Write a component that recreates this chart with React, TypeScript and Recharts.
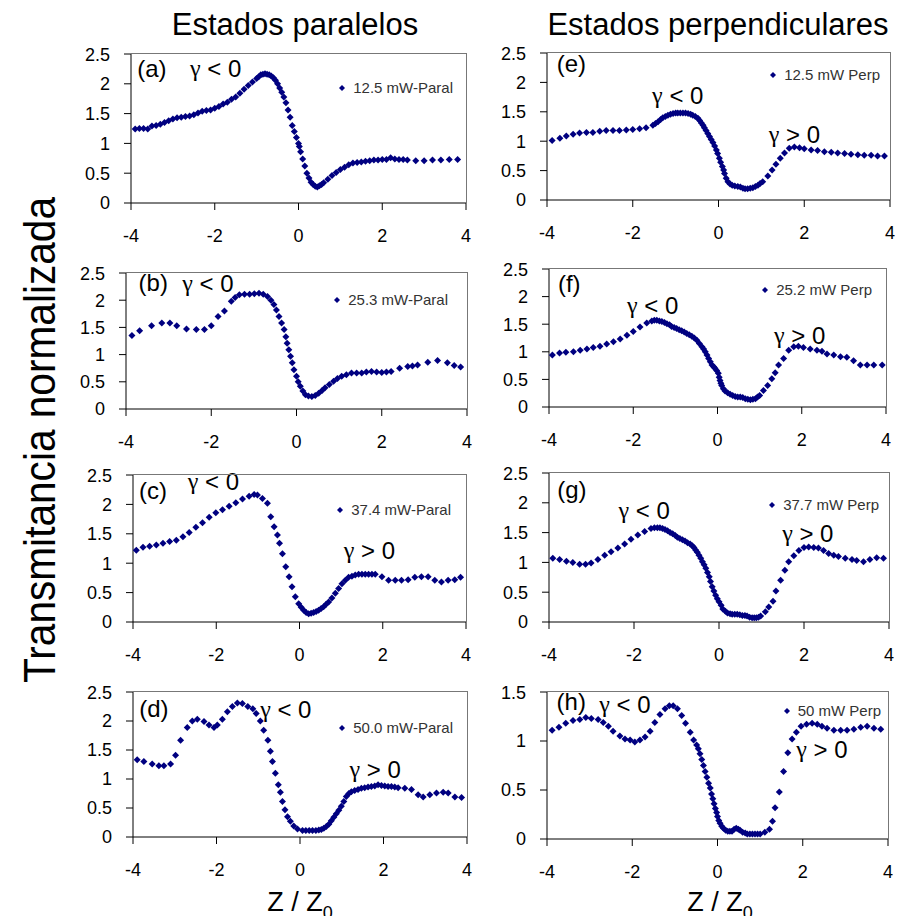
import React from 'react';
import { ScatterChart, Scatter, XAxis, YAxis, ZAxis, ReferenceDot } from 'recharts';

// Z/Z0 , normalized transmittance
const paral125 = [
  [-3.9, 1.24], [-3.8, 1.25], [-3.7, 1.25], [-3.6, 1.24], [-3.5, 1.29], [-3.4, 1.3], [-3.3, 1.32], [-3.2, 1.35],
  [-3.1, 1.38], [-3.0, 1.41], [-2.9, 1.43], [-2.8, 1.44], [-2.7, 1.45], [-2.6, 1.46], [-2.5, 1.48], [-2.4, 1.51],
  [-2.3, 1.54], [-2.2, 1.55], [-2.1, 1.56], [-2.0, 1.59], [-1.9, 1.62], [-1.8, 1.66], [-1.7, 1.69], [-1.6, 1.74],
  [-1.5, 1.78], [-1.4, 1.84], [-1.3, 1.91], [-1.2, 1.97], [-1.1, 2.03], [-1.0, 2.09], [-0.95, 2.12], [-0.9, 2.15],
  [-0.85, 2.16], [-0.8, 2.17], [-0.75, 2.16], [-0.7, 2.15], [-0.65, 2.13], [-0.6, 2.1], [-0.55, 2.06], [-0.5, 2.0],
  [-0.45, 1.93], [-0.4, 1.86], [-0.35, 1.78], [-0.3, 1.68], [-0.25, 1.56], [-0.2, 1.44], [-0.15, 1.3], [-0.1, 1.2],
  [-0.05, 1.1], [0, 1.0], [0.02, 0.95], [0.05, 0.86], [0.1, 0.74], [0.15, 0.62], [0.2, 0.5], [0.25, 0.42],
  [0.3, 0.35], [0.35, 0.31], [0.4, 0.28], [0.45, 0.27], [0.5, 0.29], [0.55, 0.31], [0.6, 0.34], [0.7, 0.4],
  [0.8, 0.46], [0.9, 0.51], [1.0, 0.56], [1.1, 0.6], [1.2, 0.64], [1.3, 0.67], [1.4, 0.68], [1.5, 0.69],
  [1.6, 0.7], [1.7, 0.71], [1.8, 0.72], [1.9, 0.72], [2.0, 0.73], [2.1, 0.73], [2.2, 0.76], [2.3, 0.74],
  [2.4, 0.73], [2.5, 0.73], [2.6, 0.72], [2.8, 0.71], [3.0, 0.71], [3.2, 0.72], [3.4, 0.72], [3.6, 0.73], [3.8, 0.73],
];

const paral253 = [
  [-3.86, 1.35], [-3.68, 1.44], [-3.4, 1.53], [-3.16, 1.58], [-2.97, 1.58], [-2.81, 1.53], [-2.58, 1.47], [-2.35, 1.46],
  [-2.16, 1.46], [-2.0, 1.53], [-1.84, 1.7], [-1.69, 1.8], [-1.53, 1.98], [-1.44, 2.05], [-1.34, 2.1], [-1.22, 2.11],
  [-1.1, 2.11], [-0.99, 2.12], [-0.88, 2.13], [-0.78, 2.11], [-0.68, 2.07], [-0.6, 2.0], [-0.53, 1.92], [-0.47, 1.82],
  [-0.41, 1.7], [-0.35, 1.58], [-0.29, 1.46], [-0.25, 1.33], [-0.22, 1.21], [-0.18, 1.09], [-0.14, 0.97], [-0.1, 0.85],
  [-0.06, 0.72], [0, 0.6], [0.04, 0.5], [0.09, 0.42], [0.15, 0.33], [0.21, 0.26], [0.28, 0.24], [0.36, 0.23],
  [0.44, 0.25], [0.52, 0.29], [0.6, 0.34], [0.67, 0.39], [0.77, 0.45], [0.87, 0.51], [0.96, 0.56], [1.06, 0.6],
  [1.17, 0.63], [1.29, 0.66], [1.41, 0.66], [1.53, 0.66], [1.64, 0.68], [1.76, 0.69], [1.88, 0.68], [2.0, 0.67],
  [2.11, 0.68], [2.22, 0.69], [2.42, 0.75], [2.61, 0.78], [2.72, 0.79], [2.84, 0.81], [3.08, 0.86], [3.31, 0.89],
  [3.54, 0.85], [3.7, 0.8], [3.85, 0.77],
];

const paral374 = [
  [-3.92, 1.22], [-3.76, 1.27], [-3.6, 1.29], [-3.44, 1.31], [-3.28, 1.34], [-3.12, 1.37], [-2.96, 1.39], [-2.8, 1.45],
  [-2.65, 1.52], [-2.49, 1.61], [-2.33, 1.69], [-2.17, 1.78], [-2.01, 1.86], [-1.85, 1.91], [-1.69, 1.97], [-1.53, 2.03],
  [-1.37, 2.09], [-1.21, 2.14], [-1.09, 2.17], [-1.01, 2.16], [-0.89, 2.1], [-0.77, 2.02], [-0.69, 1.79], [-0.61, 1.62],
  [-0.53, 1.48], [-0.48, 1.34], [-0.41, 1.16], [-0.33, 0.94], [-0.25, 0.77], [-0.18, 0.6], [-0.1, 0.43], [-0.02, 0.31],
  [0.04, 0.25], [0.1, 0.2], [0.16, 0.16], [0.22, 0.14], [0.28, 0.15], [0.34, 0.16], [0.4, 0.18], [0.46, 0.2],
  [0.52, 0.23], [0.58, 0.26], [0.64, 0.3], [0.7, 0.34], [0.78, 0.41], [0.86, 0.49], [0.94, 0.57], [1.02, 0.65],
  [1.1, 0.71], [1.18, 0.76], [1.26, 0.78], [1.34, 0.8], [1.42, 0.81], [1.5, 0.81], [1.58, 0.81], [1.66, 0.81],
  [1.74, 0.81], [1.82, 0.81], [1.98, 0.77], [2.14, 0.71], [2.3, 0.71], [2.45, 0.71], [2.61, 0.72], [2.77, 0.76],
  [2.93, 0.77], [3.09, 0.77], [3.25, 0.71], [3.41, 0.68], [3.57, 0.71], [3.73, 0.72], [3.87, 0.76],
];

const paral500 = [
  [-3.9, 1.33], [-3.74, 1.3], [-3.54, 1.26], [-3.38, 1.23], [-3.26, 1.23], [-3.1, 1.26], [-2.98, 1.41], [-2.86, 1.67],
  [-2.7, 1.89], [-2.58, 2.0], [-2.46, 2.03], [-2.3, 1.99], [-2.18, 1.93], [-2.06, 1.89], [-1.98, 1.93], [-1.86, 2.03],
  [-1.74, 2.16], [-1.62, 2.25], [-1.5, 2.31], [-1.38, 2.3], [-1.25, 2.25], [-1.13, 2.21], [-1.05, 2.13], [-0.95, 2.0],
  [-0.87, 1.84], [-0.77, 1.67], [-0.71, 1.48], [-0.66, 1.3], [-0.59, 1.1], [-0.52, 0.9], [-0.47, 0.77], [-0.42, 0.61],
  [-0.36, 0.47], [-0.3, 0.35], [-0.23, 0.27], [-0.15, 0.19], [-0.06, 0.14], [0.06, 0.11], [0.14, 0.11], [0.22, 0.11],
  [0.3, 0.11], [0.38, 0.11], [0.45, 0.12], [0.51, 0.13], [0.57, 0.15], [0.63, 0.18], [0.69, 0.22], [0.75, 0.28],
  [0.81, 0.34], [0.87, 0.4], [0.93, 0.46], [0.99, 0.53], [1.05, 0.61], [1.11, 0.7], [1.17, 0.75], [1.23, 0.78],
  [1.31, 0.8], [1.39, 0.82], [1.47, 0.84], [1.55, 0.85], [1.63, 0.86], [1.71, 0.87], [1.79, 0.88], [1.87, 0.9],
  [1.95, 0.89], [2.03, 0.88], [2.11, 0.87], [2.19, 0.87], [2.27, 0.86], [2.35, 0.85], [2.51, 0.84], [2.67, 0.82],
  [2.83, 0.73], [2.95, 0.69], [3.11, 0.73], [3.27, 0.76], [3.43, 0.77], [3.55, 0.76], [3.71, 0.69], [3.87, 0.68],
];

const perp125 = [
  [-3.88, 1.01], [-3.7, 1.05], [-3.55, 1.09], [-3.39, 1.12], [-3.24, 1.14], [-3.08, 1.15], [-2.93, 1.15], [-2.77, 1.17],
  [-2.62, 1.18], [-2.46, 1.18], [-2.31, 1.18], [-2.15, 1.19], [-2.0, 1.2], [-1.84, 1.21], [-1.69, 1.23], [-1.53, 1.27],
  [-1.47, 1.3], [-1.41, 1.33], [-1.35, 1.37], [-1.3, 1.4], [-1.24, 1.42], [-1.18, 1.44], [-1.12, 1.46], [-1.06, 1.47],
  [-1.0, 1.48], [-0.95, 1.48], [-0.89, 1.48], [-0.83, 1.48], [-0.77, 1.48], [-0.71, 1.47], [-0.65, 1.46], [-0.6, 1.44],
  [-0.54, 1.42], [-0.48, 1.39], [-0.44, 1.35], [-0.4, 1.31], [-0.36, 1.27], [-0.33, 1.23], [-0.29, 1.18], [-0.25, 1.13],
  [-0.21, 1.08], [-0.17, 1.03], [-0.13, 0.98], [-0.09, 0.92], [-0.05, 0.85], [-0.02, 0.79], [0.02, 0.71], [0.05, 0.64],
  [0.09, 0.57], [0.12, 0.51], [0.14, 0.45], [0.18, 0.37], [0.22, 0.31], [0.27, 0.27], [0.32, 0.25], [0.38, 0.24],
  [0.45, 0.23], [0.51, 0.22], [0.57, 0.2], [0.62, 0.19], [0.68, 0.19], [0.74, 0.2], [0.8, 0.21], [0.86, 0.23],
  [0.92, 0.25], [0.97, 0.28], [1.03, 0.31], [1.15, 0.41], [1.25, 0.51], [1.34, 0.61], [1.44, 0.71], [1.54, 0.8],
  [1.65, 0.88], [1.77, 0.9], [1.89, 0.89], [2.0, 0.87], [2.16, 0.85], [2.31, 0.84], [2.47, 0.82], [2.63, 0.81],
  [2.78, 0.8], [2.94, 0.79], [3.09, 0.78], [3.25, 0.77], [3.4, 0.76], [3.56, 0.76], [3.71, 0.75], [3.87, 0.75],
];

const perp252 = [
  [-3.92, 0.94], [-3.75, 0.98], [-3.6, 0.99], [-3.42, 1.0], [-3.26, 1.03], [-3.1, 1.05], [-2.95, 1.08], [-2.79, 1.1],
  [-2.63, 1.14], [-2.47, 1.18], [-2.31, 1.23], [-2.15, 1.3], [-2.0, 1.37], [-1.84, 1.45], [-1.68, 1.52], [-1.56, 1.56],
  [-1.5, 1.57], [-1.44, 1.57], [-1.38, 1.56], [-1.32, 1.55], [-1.26, 1.53], [-1.2, 1.51], [-1.14, 1.49], [-1.09, 1.46],
  [-1.03, 1.44], [-0.97, 1.42], [-0.91, 1.4], [-0.85, 1.38], [-0.79, 1.36], [-0.73, 1.33], [-0.67, 1.31], [-0.61, 1.28],
  [-0.55, 1.25], [-0.49, 1.21], [-0.43, 1.15], [-0.37, 1.09], [-0.33, 1.05], [-0.29, 1.0], [-0.25, 0.94], [-0.21, 0.88],
  [-0.17, 0.82], [-0.13, 0.76], [-0.09, 0.73], [-0.06, 0.7], [-0.02, 0.66], [0.02, 0.61], [0.04, 0.54], [0.06, 0.48],
  [0.08, 0.43], [0.1, 0.39], [0.14, 0.33], [0.18, 0.29], [0.24, 0.26], [0.3, 0.23], [0.36, 0.21], [0.42, 0.19],
  [0.48, 0.18], [0.54, 0.18], [0.6, 0.17], [0.66, 0.15], [0.72, 0.14], [0.78, 0.13], [0.84, 0.14], [0.9, 0.15],
  [0.95, 0.18], [1.0, 0.21], [1.09, 0.3], [1.19, 0.39], [1.29, 0.51], [1.37, 0.62], [1.45, 0.76], [1.57, 0.88],
  [1.69, 1.03], [1.81, 1.09], [1.92, 1.1], [2.04, 1.08], [2.2, 1.05], [2.36, 1.03], [2.48, 1.01], [2.6, 0.96],
  [2.76, 0.94], [2.92, 0.91], [3.07, 0.9], [3.23, 0.84], [3.39, 0.76], [3.55, 0.76], [3.71, 0.76], [3.91, 0.76],
];

const perp377 = [
  [-3.91, 1.07], [-3.75, 1.05], [-3.59, 1.02], [-3.44, 1.0], [-3.28, 0.97], [-3.14, 0.97], [-3.01, 0.99], [-2.85, 1.05],
  [-2.69, 1.12], [-2.54, 1.18], [-2.38, 1.24], [-2.22, 1.31], [-2.07, 1.39], [-1.91, 1.46], [-1.75, 1.52], [-1.6, 1.57],
  [-1.52, 1.58], [-1.45, 1.58], [-1.39, 1.58], [-1.33, 1.57], [-1.27, 1.55], [-1.21, 1.53], [-1.15, 1.5], [-1.09, 1.48],
  [-1.03, 1.45], [-0.98, 1.42], [-0.92, 1.4], [-0.86, 1.38], [-0.8, 1.36], [-0.74, 1.33], [-0.68, 1.31], [-0.63, 1.28],
  [-0.59, 1.25], [-0.55, 1.21], [-0.51, 1.17], [-0.47, 1.12], [-0.43, 1.07], [-0.39, 1.01], [-0.35, 0.96], [-0.31, 0.9],
  [-0.27, 0.83], [-0.23, 0.76], [-0.2, 0.68], [-0.16, 0.59], [-0.12, 0.52], [-0.08, 0.45], [-0.04, 0.39], [0.0, 0.34],
  [0.05, 0.28], [0.09, 0.22], [0.15, 0.18], [0.2, 0.15], [0.26, 0.14], [0.31, 0.13], [0.37, 0.13], [0.43, 0.13],
  [0.49, 0.12], [0.55, 0.11], [0.61, 0.11], [0.66, 0.1], [0.72, 0.08], [0.78, 0.07], [0.83, 0.07], [0.88, 0.07],
  [0.93, 0.08], [0.98, 0.1], [1.09, 0.17], [1.17, 0.25], [1.27, 0.35], [1.34, 0.52], [1.45, 0.7], [1.55, 0.87],
  [1.64, 1.01], [1.76, 1.11], [1.88, 1.2], [2.0, 1.25], [2.11, 1.26], [2.23, 1.25], [2.34, 1.24], [2.46, 1.2],
  [2.58, 1.15], [2.7, 1.12], [2.81, 1.1], [2.97, 1.07], [3.13, 1.05], [3.24, 1.03], [3.4, 1.01], [3.55, 1.05],
  [3.71, 1.08], [3.87, 1.07],
];

const perp500 = [
  [-3.88, 1.11], [-3.72, 1.14], [-3.56, 1.18], [-3.39, 1.21], [-3.23, 1.22], [-3.09, 1.24], [-2.96, 1.23], [-2.8, 1.22],
  [-2.68, 1.19], [-2.56, 1.15], [-2.45, 1.1], [-2.29, 1.05], [-2.17, 1.02], [-2.05, 1.01], [-1.94, 0.99], [-1.82, 1.01],
  [-1.7, 1.04], [-1.58, 1.1], [-1.47, 1.19], [-1.35, 1.27], [-1.23, 1.33], [-1.13, 1.36], [-1.04, 1.36], [-0.94, 1.33],
  [-0.84, 1.26], [-0.75, 1.18], [-0.64, 1.09], [-0.56, 1.01], [-0.49, 0.96], [-0.45, 0.92], [-0.41, 0.87], [-0.37, 0.81],
  [-0.33, 0.75], [-0.29, 0.69], [-0.25, 0.63], [-0.21, 0.57], [-0.17, 0.52], [-0.14, 0.46], [-0.11, 0.41], [-0.08, 0.36],
  [-0.05, 0.31], [-0.02, 0.27], [0.0, 0.23], [0.03, 0.19], [0.06, 0.16], [0.1, 0.13], [0.14, 0.11], [0.19, 0.09],
  [0.24, 0.08], [0.29, 0.08], [0.34, 0.08], [0.39, 0.1], [0.44, 0.11], [0.49, 0.1], [0.53, 0.09], [0.59, 0.07],
  [0.65, 0.06], [0.7, 0.05], [0.76, 0.05], [0.82, 0.05], [0.88, 0.05], [0.94, 0.05], [1.0, 0.05], [1.11, 0.07],
  [1.22, 0.1], [1.29, 0.18], [1.35, 0.32], [1.45, 0.48], [1.55, 0.69], [1.65, 0.88], [1.75, 1.02], [1.85, 1.09],
  [1.96, 1.15], [2.09, 1.17], [2.22, 1.18], [2.34, 1.17], [2.45, 1.15], [2.57, 1.13], [2.73, 1.11], [2.89, 1.11],
  [3.04, 1.11], [3.2, 1.12], [3.36, 1.14], [3.51, 1.15], [3.67, 1.13], [3.83, 1.12],
];

const seriesNames = ['12.5 mW-Paral', '25.3 mW-Paral', '37.4 mW-Paral', '50.0 mW-Paral', '12.5 mW Perp', '25.2 mW Perp', '37.7 mW Perp', '50 mW Perp'];
const xTicks = [-4, -2, 0, 2, 4];
const yTicks = [0, 0.5, 1, 1.5, 2, 2.5];
const yTicksLow = [0, 0.5, 1, 1.5];

type Note = { x: number; y: number; text: string };

// box = plot area [left, top, right, bottom] in px; leg = legend [center below top, gap from right]
const panels = [
  { data: paral125, name: seriesNames[0], box: [131, 54, 466, 203], yMax: 2.5, ticks: yTicks, leg: [34, 13],
    notes: [{ x: -3.5, y: 2.26, text: '(a)' }, { x: -1.98, y: 2.26, text: 'γ < 0' }] },
  { data: paral253, name: seriesNames[1], box: [126, 273, 467, 409], yMax: 2.5, ticks: yTicks, leg: [27, 19],
    notes: [{ x: -3.36, y: 2.32, text: '(b)' }, { x: -2.08, y: 2.32, text: 'γ < 0' }] },
  { data: paral374, name: seriesNames[2], box: [133, 475, 466, 622], yMax: 2.5, ticks: yTicks, leg: [35, 15],
    notes: [{ x: -3.52, y: 2.24, text: '(c)' }, { x: -2.07, y: 2.39, text: 'γ < 0' }, { x: 1.68, y: 1.22, text: 'γ > 0' }] },
  { data: paral500, name: seriesNames[3], box: [133, 692, 467, 837], yMax: 2.5, ticks: yTicks, leg: [36, 14],
    notes: [{ x: -3.5, y: 2.21, text: '(d)' }, { x: -0.34, y: 2.21, text: 'γ < 0' }, { x: 1.8, y: 1.18, text: 'γ > 0' }] },
  { data: perp125, name: seriesNames[4], box: [547, 53, 890, 200], yMax: 2.5, ticks: yTicks, leg: [22, 10],
    notes: [{ x: -3.43, y: 2.32, text: '(e)' }, { x: -0.95, y: 1.78, text: 'γ < 0' }, { x: 1.77, y: 1.13, text: 'γ > 0' }] },
  { data: perp252, name: seriesNames[5], box: [549, 269, 886, 407], yMax: 2.5, ticks: yTicks, leg: [21, 14],
    notes: [{ x: -3.52, y: 2.24, text: '(f)' }, { x: -1.54, y: 1.85, text: 'γ < 0' }, { x: 1.95, y: 1.3, text: 'γ > 0' }] },
  { data: perp377, name: seriesNames[6], box: [549, 473, 889, 622], yMax: 2.5, ticks: yTicks, leg: [32, 10],
    notes: [{ x: -3.46, y: 2.22, text: '(g)' }, { x: -1.76, y: 1.88, text: 'γ < 0' }, { x: 2.09, y: 1.49, text: 'γ > 0' }] },
  { data: perp500, name: seriesNames[7], box: [547, 692, 888, 839], yMax: 1.5, ticks: yTicksLow, leg: [19, 7],
    notes: [{ x: -3.43, y: 1.4, text: '(h)' }, { x: -2.17, y: 1.38, text: 'γ < 0' }, { x: 2.45, y: 0.92, text: 'γ > 0' }] },
];

const NAVY = '#000080';
const FONT = '"Liberation Sans", Arial, sans-serif';

const Diamond = ({ cx, cy }: any) => (
  <polygon points={`${cx},${cy - 3.5} ${cx + 3.5},${cy} ${cx},${cy + 3.5} ${cx - 3.5},${cy}`} fill={NAVY} />
);

const NoteText = ({ cx, cy, text }: any) => {
  const isGamma = text.startsWith('γ');
  return (
    <text x={cx} y={cy} textAnchor="middle" dominantBaseline="central" fontSize={24} fill="#000" fontFamily={FONT}>
      {isGamma ? (
        <>
          <tspan fontFamily='"Liberation Serif", serif'>γ</tspan>
          <tspan>{text.slice(1)}</tspan>
        </>
      ) : text}
    </text>
  );
};

function Panel({ p }: { p: typeof panels[number] }) {
  const YW = 60, MT = 10, MR = 15, XH = 45;
  const [l, t, r, b] = p.box;
  const w = r - l + YW + MR;
  const rows = p.data.map(([z, v]) => ({ z, v }));
  return (
    <div style={{ position: 'absolute', left: l - YW, top: t - MT, width: w }}>
      <ScatterChart width={w} height={b - t + MT + XH} margin={{ top: MT, right: MR, left: 0, bottom: 0 }}>
        <XAxis type="number" dataKey="z" domain={[-4, 4]} ticks={xTicks} height={XH} tickSize={7} tickMargin={19}
          axisLine={{ stroke: '#000' }} tickLine={{ stroke: '#000' }} tick={{ fill: '#000', fontSize: 18 }} allowDataOverflow />
        <YAxis type="number" dataKey="v" domain={[0, p.yMax]} ticks={p.ticks} width={YW} tickSize={7} tickMargin={14}
          axisLine={{ stroke: '#000' }} tickLine={{ stroke: '#000' }} tick={{ fill: '#000', fontSize: 18 }} allowDataOverflow />
        <ZAxis range={[20, 20]} />
        <Scatter name={p.name} data={rows} fill={NAVY} shape={<Diamond />} isAnimationActive={false} />
        {p.notes.map((n: Note, i: number) => (
          <ReferenceDot key={i} x={n.x} y={n.y} r={0} shape={(sp: any) => <NoteText cx={sp.cx} cy={sp.cy} text={n.text} />} />
        ))}
      </ScatterChart>
      {/* grey frame on top and right of the plot area */}
      <div style={{ position: 'absolute', left: YW, top: MT - 1, width: r - l + 1, height: b - t + 1,
        borderTop: '1px solid #777', borderRight: '1px solid #777', boxSizing: 'border-box', pointerEvents: 'none' }} />
      <div style={{ position: 'absolute', right: MR + p.leg[1], top: MT + p.leg[0] - 8, display: 'flex', alignItems: 'center',
        fontSize: 15, lineHeight: '16px', color: '#333', whiteSpace: 'nowrap', fontFamily: FONT }}>
        <svg width={8} height={8} style={{ marginRight: 7 }}><polygon points="4,1 7,4 4,7 1,4" fill={NAVY} /></svg>
        {p.name}
      </div>
    </div>
  );
}

export default function App() {
  return (
    <div style={{ position: 'absolute', left: 0, top: 0, width: 898, height: 916, background: '#fff', fontFamily: FONT, overflow: 'hidden' }}>
      {panels.map((p, i) => <Panel key={i} p={p} />)}
      <svg width={898} height={916} style={{ position: 'absolute', left: 0, top: 0, pointerEvents: 'none' }} fontFamily={FONT}>
        <text x={295} y={35} textAnchor="middle" fontSize={31} fill="#000">Estados paralelos</text>
        <text x={718} y={35} textAnchor="middle" fontSize={31} fill="#000">Estados perpendiculares</text>
        <text transform="translate(55,440) rotate(-90)" textAnchor="middle" fontSize={44} textLength={486}
          lengthAdjust="spacingAndGlyphs" fill="#000">Transmitancia normalizada</text>
        <text x={300} y={911} textAnchor="middle" fontSize={27} fill="#000">Z / Z<tspan fontSize={18} dy={8}>0</tspan></text>
        <text x={720} y={911} textAnchor="middle" fontSize={27} fill="#000">Z / Z<tspan fontSize={18} dy={8}>0</tspan></text>
      </svg>
    </div>
  );
}
